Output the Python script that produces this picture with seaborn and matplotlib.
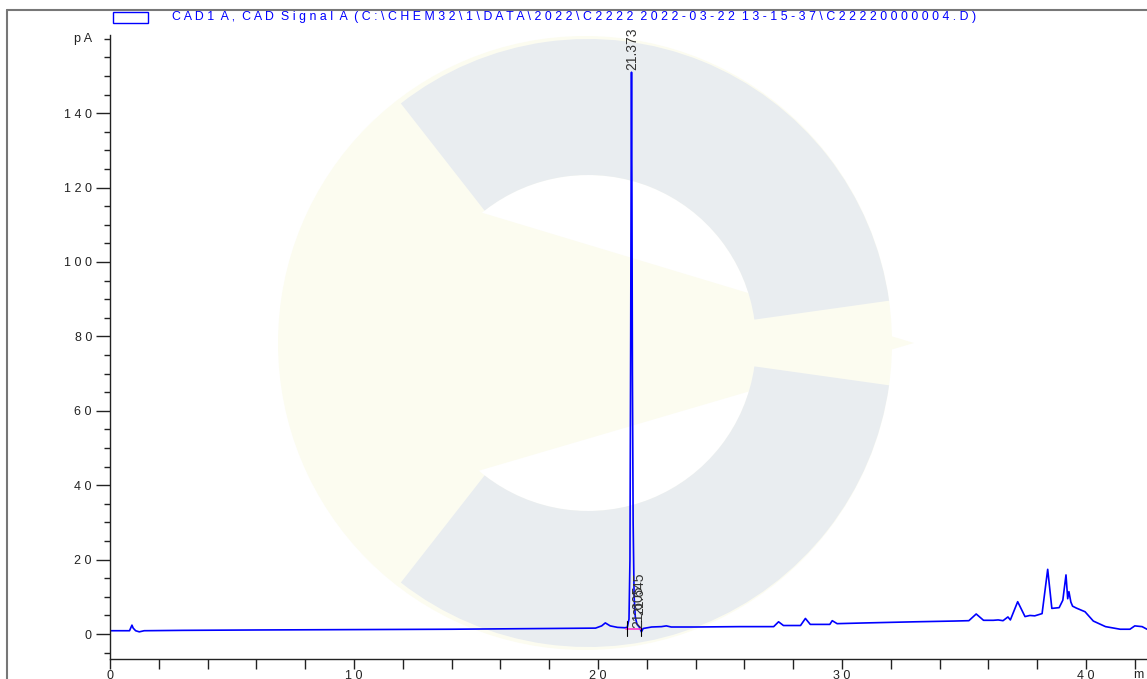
import numpy as np
import pandas as pd
import seaborn as sns
import matplotlib.pyplot as plt
from matplotlib.patches import Wedge, Circle, Polygon, Rectangle
from matplotlib.lines import Line2D
from matplotlib.ticker import MultipleLocator, FuncFormatter

# signal trace (time in min, signal in pA)
time_min = [0.0, 0.8, 0.9, 0.95, 1.05, 1.2, 1.4, 3.0, 6.0, 10.0, 14.0, 18.0, 19.9,
            20.15, 20.3, 20.5, 20.8, 21.1, 21.2, 21.27, 21.31, 21.34, 21.36, 21.373,
            21.39, 21.41, 21.44, 21.48, 21.53, 21.6, 21.7, 21.78, 21.85, 22.2, 22.6,
            22.8, 23.0, 24.0, 25.8, 27.2, 27.4, 27.6, 28.3, 28.5, 28.7, 29.5, 29.6,
            29.8, 31.0, 33.0, 34.6, 35.2, 35.5, 35.8, 36.2, 36.4, 36.6, 36.8, 36.9,
            37.2, 37.5, 37.7, 37.9, 38.2, 38.43, 38.6, 38.9, 39.05, 39.18, 39.25,
            39.3, 39.38, 39.45, 39.6, 39.96, 40.3, 40.8, 41.4, 41.8, 42.0, 42.3, 42.5]
signal_pa = [0.9, 0.9, 2.4, 1.6, 0.9, 0.6, 0.9, 1.0, 1.1, 1.2, 1.3, 1.5, 1.6,
             2.2, 3.0, 2.2, 1.8, 1.7, 1.8, 4.0, 20.0, 80.0, 128.0, 151.0,
             120.0, 70.0, 30.0, 10.0, 4.5, 2.6, 1.8, 0.6, 1.5, 1.9, 2.0,
             2.2, 1.9, 1.9, 2.0, 2.0, 3.3, 2.3, 2.3, 4.2, 2.6, 2.6, 3.6,
             2.8, 3.0, 3.3, 3.5, 3.6, 5.4, 3.7, 3.7, 3.8, 3.6, 4.6, 3.8,
             8.7, 4.7, 5.0, 4.9, 5.5, 17.4, 6.9, 7.1, 9.1, 15.9, 9.5,
             11.4, 8.6, 7.5, 7.0, 6.0, 3.5, 2.0, 1.3, 1.3, 2.2, 2.0, 1.3]

peak_times = [21.373, 21.605, 21.645]
peak_heights = [151.0, 1.0, 4.6]
peak_labels = ["21.373", "21.605", "21.645"]
peak_marks = [21.2, 21.75]
base_start, base_end, base_level = 21.15, 21.78, 1.4

x_ticks_major = [0, 10, 20, 30, 40]
y_ticks_major = [0, 20, 40, 60, 80, 100, 120, 140]

title = ("C A D 1  A ,  C A D  S i g n a l  A  ( C : \\ C H E M 3 2 \\ 1 \\ D A T A \\ 2 0 2 2 \\ "
         "C 2 2 2 2  2 0 2 2 - 0 3 - 2 2  1 3 - 1 5 - 3 7 \\ C 2 2 2 2 0 0 0 0 0 0 4 . D )")

df = pd.DataFrame({"time": time_min, "signal": signal_pa})

sns.set_style("ticks")
plt.rcParams["font.family"] = ["Liberation Sans", "DejaVu Sans"]

W, H = 1147, 679
fig = plt.figure(figsize=(W / 100, H / 100), dpi=100)

# faint logo watermark behind the plot (pixel coordinates)
bg = fig.add_axes([0, 0, 1, 1], zorder=0)
bg.set_xlim(0, W)
bg.set_ylim(H, 0)
bg.axis("off")
yel = "#fcfcf0"
gry = "#e9edf0"
bg.add_patch(Circle((585, 343), 307, color=yel, lw=0))
bg.add_patch(Circle((588, 343), 168, color="white", lw=0))
bg.add_patch(Polygon([(420, 194), (420, 488), (914, 343)], closed=True, color=yel, lw=0))
bg.add_patch(Wedge((588, 343), 304, -128, -8, width=136, color=gry, lw=0))
bg.add_patch(Wedge((588, 343), 304, 8, 128, width=136, color=gry, lw=0))

# frame lines of the report page
fig.add_artist(Line2D([7 / W, 1], [1 - 10 / H, 1 - 10 / H], color="#777777", lw=1.5))
fig.add_artist(Line2D([7 / W, 7 / W], [0, 1 - 10 / H], color="#777777", lw=1.5))

ax = fig.add_axes([110 / W, 20 / H, 1 - 110 / W, (659 - 35) / H], zorder=1)
ax.patch.set_alpha(0)

sns.lineplot(data=df, x="time", y="signal", color="#0000ff", lw=1.2,
             estimator=None, sort=False, ax=ax)

# integration baseline and peak marks
ax.plot([base_start, base_end], [base_level, base_level], color="#ff33cc", lw=1.2)
for t in peak_marks:
    ax.plot([t, t], [base_level - 2, base_level + 2], color="black", lw=0.8)

for t, h, lab in zip(peak_times, peak_heights, peak_labels):
    ax.text(t + 0.05, h + 0.5, lab, rotation=90, ha="center", va="bottom",
            fontsize=10, color="#333333")

ax.set_xlim(0, 42.5)
ax.set_ylim(-6.7, 161)
ax.xaxis.set_major_locator(MultipleLocator(10))
ax.xaxis.set_minor_locator(MultipleLocator(2))
ax.yaxis.set_major_locator(MultipleLocator(20))
ax.yaxis.set_minor_locator(MultipleLocator(5))
spaced = FuncFormatter(lambda v, p: " ".join(str(int(round(v)))))
ax.xaxis.set_major_formatter(spaced)
ax.yaxis.set_major_formatter(spaced)
ax.set_xticks(x_ticks_major)
ax.set_yticks(y_ticks_major)
ax.tick_params(axis="y", which="major", length=10, width=1, color="#222222",
               labelsize=9, labelcolor="#222222", pad=3)
ax.tick_params(axis="y", which="minor", length=4, width=1, color="#222222")
ax.tick_params(axis="x", which="both", length=7, width=1, color="#222222",
               labelsize=9, labelcolor="#222222", pad=1)
ax.set_xlabel("")
ax.set_ylabel("")
sns.despine(ax=ax)
for s in ["left", "bottom"]:
    ax.spines[s].set_color("#222222")
    ax.spines[s].set_linewidth(1)

ax.text(-0.017, 160, "p A", transform=ax.get_yaxis_transform(), ha="right", va="center",
        fontsize=9, color="#222222")
ax.text(41.95, -10.9, "m i n", ha="left", va="center", fontsize=9, color="#222222",
        clip_on=False)

# legend entry
fig.add_artist(Rectangle((113 / W, 1 - 23 / H), 35 / W, 11 / H, fill=False,
                         edgecolor="#0000ff", lw=1))
fig.text(172 / W, 1 - 17 / H, title, ha="left", va="center", fontsize=8.9,
         color="#0000ff")

fig.savefig("out.png", dpi=100)
